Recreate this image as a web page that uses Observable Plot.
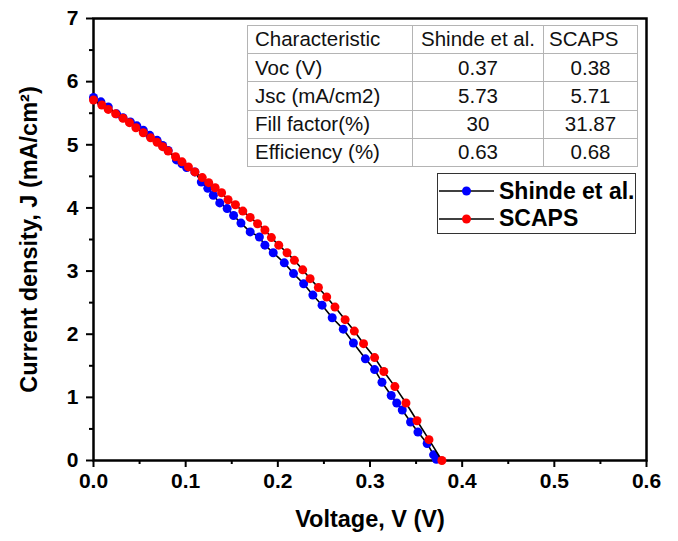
<!DOCTYPE html>
<html>
<head>
<meta charset="utf-8">
<script src="https://cdn.jsdelivr.net/npm/d3@7"></script>
<script src="https://cdn.jsdelivr.net/npm/@observablehq/plot@0.6"></script>
<style>
  body { margin: 0; background: white; }
  #wrap { position: relative; width: 678px; height: 541px; font-family: "Liberation Sans", Arial, sans-serif; }
  #tbl { position: absolute; left: 247px; top: 25px; width: 390px; height: 142px; border-collapse: collapse; table-layout: fixed;
         font-size: 20.5px; border: 1.5px solid #333; color: #111; }
  #tbl td { border: 1px solid #b4b4b4; padding: 0; line-height: 1; vertical-align: middle; text-align: center; white-space: nowrap; }
  #tbl td.l { text-align: left; padding-left: 7px; }
  #tbl td.h3 { text-align: left; padding-left: 5px; }
  #legend { position: absolute; left: 437px; top: 173px; width: 199px; height: 61px; border: 1.5px solid #333; box-sizing: border-box; }
  .lg { position: absolute; left: 0; height: 24px; display: flex; align-items: center; font-weight: bold; font-size: 23px; }
  .lg svg { margin-left: 1px; margin-right: 5px; }
</style>
</head>
<body>
<div id="wrap"></div>
<script>
// Shinde et al. (blue)
const voltageShinde = [0.000,0.008,0.016,0.025,0.032,0.040,0.047,0.054,0.061,0.069,0.075,0.081,0.090,0.096,0.101,0.110,0.117,0.124,0.130,0.137,0.145,0.152,0.160,0.170,0.180,0.186,0.195,0.207,0.217,0.228,0.238,0.248,0.259,0.271,0.282,0.295,0.305,0.313,0.323,0.329,0.335,0.344,0.352,0.362,0.369,0.372];
const currentShinde = [5.75,5.68,5.60,5.49,5.43,5.36,5.30,5.23,5.15,5.07,4.99,4.91,4.76,4.70,4.64,4.57,4.41,4.31,4.20,4.08,3.99,3.88,3.76,3.62,3.54,3.41,3.29,3.13,2.96,2.80,2.62,2.46,2.26,2.08,1.86,1.61,1.44,1.24,1.03,0.91,0.80,0.61,0.45,0.27,0.09,0.02];
// SCAPS (red)
const voltageScaps = [0.000,0.009,0.016,0.024,0.032,0.039,0.046,0.054,0.062,0.069,0.075,0.081,0.089,0.096,0.103,0.110,0.118,0.125,0.132,0.139,0.146,0.154,0.162,0.170,0.178,0.186,0.193,0.201,0.210,0.218,0.227,0.235,0.244,0.253,0.262,0.273,0.283,0.293,0.305,0.315,0.327,0.339,0.351,0.364,0.378];
const currentScaps = [5.71,5.63,5.56,5.49,5.42,5.35,5.27,5.19,5.11,5.04,4.97,4.90,4.81,4.73,4.65,4.57,4.48,4.40,4.32,4.24,4.13,4.05,3.95,3.85,3.75,3.65,3.53,3.41,3.29,3.17,3.02,2.88,2.74,2.59,2.43,2.23,2.05,1.85,1.63,1.41,1.17,0.91,0.63,0.33,0.00];

const xTicks = [0, 0.1, 0.2, 0.3, 0.4, 0.5, 0.6];
const xMinor = [0.05, 0.15, 0.25, 0.35, 0.45, 0.55];
const yTicks = [0, 1, 2, 3, 4, 5, 6, 7];
const yMinor = [0.5, 1.5, 2.5, 3.5, 4.5, 5.5, 6.5];

const tableHeader = ["Characteristic", "Shinde et al.", "SCAPS"];
const tableRows = [
  ["Voc (V)", "0.37", "0.38"],
  ["Jsc (mA/cm2)", "5.73", "5.71"],
  ["Fill factor(%)", "30", "31.87"],
  ["Efficiency (%)", "0.63", "0.68"]
];
const seriesNames = ["Shinde et al.", "SCAPS"];
const seriesColors = ["#0000ff", "#ff0000"];

const shinde = voltageShinde.map((v, i) => ({v, j: currentShinde[i]}));
const scaps = voltageScaps.map((v, i) => ({v, j: currentScaps[i]}));

const chart = Plot.plot({
  width: 678, height: 541,
  marginLeft: 93, marginRight: 32, marginTop: 18, marginBottom: 81,
  x: {domain: [0, 0.6]},
  y: {domain: [0, 7]},
  style: {fontFamily: "'Liberation Sans', Arial, sans-serif", fontSize: "21px", fontWeight: "bold", color: "black", background: "white", overflow: "visible"},
  marks: [
    Plot.axisX(xMinor, {tickSize: 4, tickFormat: () => "", label: null, strokeWidth: 2}),
    Plot.axisX(xTicks, {tickSize: 7, tickPadding: 6, tickFormat: d => d.toFixed(1), label: "Voltage, V (V)", labelAnchor: "center", labelOffset: 66, labelArrow: "none", strokeWidth: 2}),
    Plot.axisY(yMinor, {tickSize: 4, tickFormat: () => "", label: null, strokeWidth: 2}),
    Plot.axisY(yTicks, {tickSize: 7, tickPadding: 8, tickFormat: d => String(d), label: "Current density, J (mA/cm²)", labelAnchor: "center", labelOffset: 73, labelArrow: "none", strokeWidth: 2}),
    Plot.frame({stroke: "black", strokeWidth: 2.5}),
    Plot.line(shinde, {x: "v", y: "j", stroke: "black", strokeWidth: 1.6}),
    Plot.dot(shinde, {x: "v", y: "j", r: 4.5, fill: seriesColors[0], stroke: null}),
    Plot.line(scaps, {x: "v", y: "j", stroke: "black", strokeWidth: 1.6}),
    Plot.dot(scaps, {x: "v", y: "j", r: 4.5, fill: seriesColors[1], stroke: null})
  ]
});

const wrap = document.getElementById("wrap");
wrap.appendChild(chart);
chart.querySelectorAll('[aria-label="x-axis label"] text').forEach(t => t.style.fontSize = "23.5px");
chart.querySelectorAll('[aria-label="y-axis label"] text').forEach(t => t.style.fontSize = "23.5px");

// table
const tbl = document.createElement("table");
tbl.id = "tbl";
const cg = document.createElement("colgroup");
[165, 131, 94].forEach(w => { const c = document.createElement("col"); c.style.width = w + "px"; cg.appendChild(c); });
tbl.appendChild(cg);
[tableHeader, ...tableRows].forEach((row, ri) => {
  const tr = document.createElement("tr");
  row.forEach((cell, ci) => {
    const td = document.createElement("td");
    td.textContent = cell;
    if (ci === 0) td.className = "l";
    if (ri === 0 && ci === 2) td.className = "h3";
    tr.appendChild(td);
  });
  tbl.appendChild(tr);
});
wrap.appendChild(tbl);

// legend
const lg = document.createElement("div");
lg.id = "legend";
seriesNames.forEach((name, i) => {
  const row = document.createElement("div");
  row.className = "lg";
  row.style.top = (5 + i * 27.6) + "px";
  row.innerHTML = `<svg width="55" height="20"><line x1="0" y1="10" x2="55" y2="10" stroke="black" stroke-width="1.6"/><circle cx="27.5" cy="10" r="4.5" fill="${seriesColors[i]}"/></svg><span>${name}</span>`;
  lg.appendChild(row);
});
wrap.appendChild(lg);
</script>
</body>
</html>
